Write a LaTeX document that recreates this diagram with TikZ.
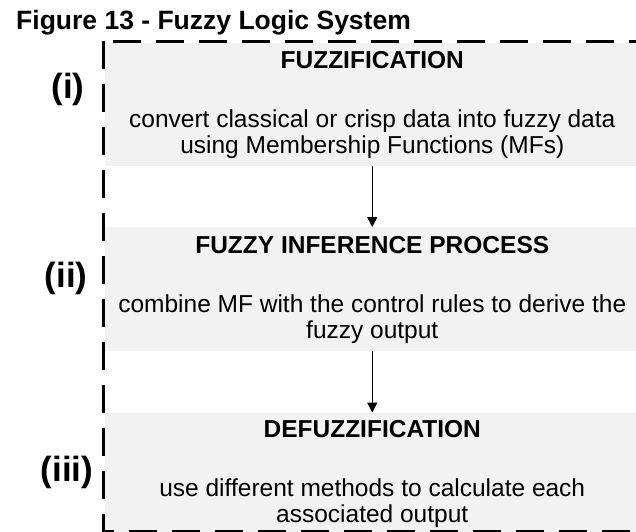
\documentclass[tikz,border=0pt]{standalone}
\usepackage{fontspec}
\setmainfont{Liberation Sans}
\usetikzlibrary{arrows.meta,calc}
\definecolor{panel}{HTML}{F2F2F2}
\begin{document}
\begin{tikzpicture}[x=1pt,y=-1pt,
  panelbox/.style={fill=panel, draw=none, minimum width=535.5pt, inner sep=0pt, outer sep=0pt},
  heading/.style={font=\bfseries\fontsize{24.5}{26}\selectfont, anchor=base, inner sep=0pt},
  body/.style={font=\fontsize{24.5}{26}\selectfont, anchor=base, inner sep=0pt},
  tag/.style={font=\bfseries\fontsize{35}{40}\selectfont, inner sep=0pt},
  frame/.style={line width=3pt, dash pattern=on 28pt off 15pt},
  flow/.style={line width=1.5pt, -{Triangle[length=10pt,width=10pt]}}
]
\useasboundingbox (0,0) rectangle (636,531);
\clip (0,0) rectangle (636,531);

% title
\node[font=\bfseries\fontsize{26.5}{30}\selectfont, anchor=base west, inner sep=0pt]
  (title) at (16,29.3) {Figure 13 - Fuzzy Logic System};

% the three stages
\node[panelbox, minimum height=123.5pt] (fuzz)   at (372.25,104.25) {};
\node[panelbox, minimum height=124pt]   (infer)  at (372.25,289) {};
\node[panelbox, minimum height=119pt]   (defuzz) at (372.25,472) {};

\node[heading] (fuzzH) at ($(fuzz.north)+(0,26)$) {FUZZIFICATION};
\node[body] (fuzzA) at ($(fuzz.north)+(0,84.5)$) {convert classical or crisp data into fuzzy data};
\node[body] (fuzzB) at ($(fuzz.north)+(0,110.5)$) {using Membership Functions (MFs)};

\node[heading] (inferH) at ($(infer.north)+(0,26)$) {FUZZY INFERENCE PROCESS};
\node[body] (inferA) at ($(infer.north)+(0,85)$) {combine MF with the control rules to derive the};
\node[body] (inferB) at ($(infer.north)+(0,111)$) {fuzzy output};

\node[heading] (defuzzH) at ($(defuzz.north)+(0,25)$) {DEFUZZIFICATION};
\node[body] (defuzzA) at ($(defuzz.north)+(0,83.5)$) {use different methods to calculate each};
\node[body] (defuzzB) at ($(defuzz.north)+(0,110)$) {associated output};

% stage numbers
\node[tag] (tagI)   at (68,89)  {(i)};
\node[tag] (tagII)  at (66,278) {(ii)};
\node[tag] (tagIII) at (67,472) {(iii)};

% flow between the stages
\draw[flow] (fuzz) -- (infer);
\draw[flow] (infer) -- (defuzz);

% dashed frame
\draw[frame] (103,41) -- (103,531) -- (640,531);
\draw[frame, dash phase=33pt] (103,41) -- (640,41);
\end{tikzpicture}
\end{document}
